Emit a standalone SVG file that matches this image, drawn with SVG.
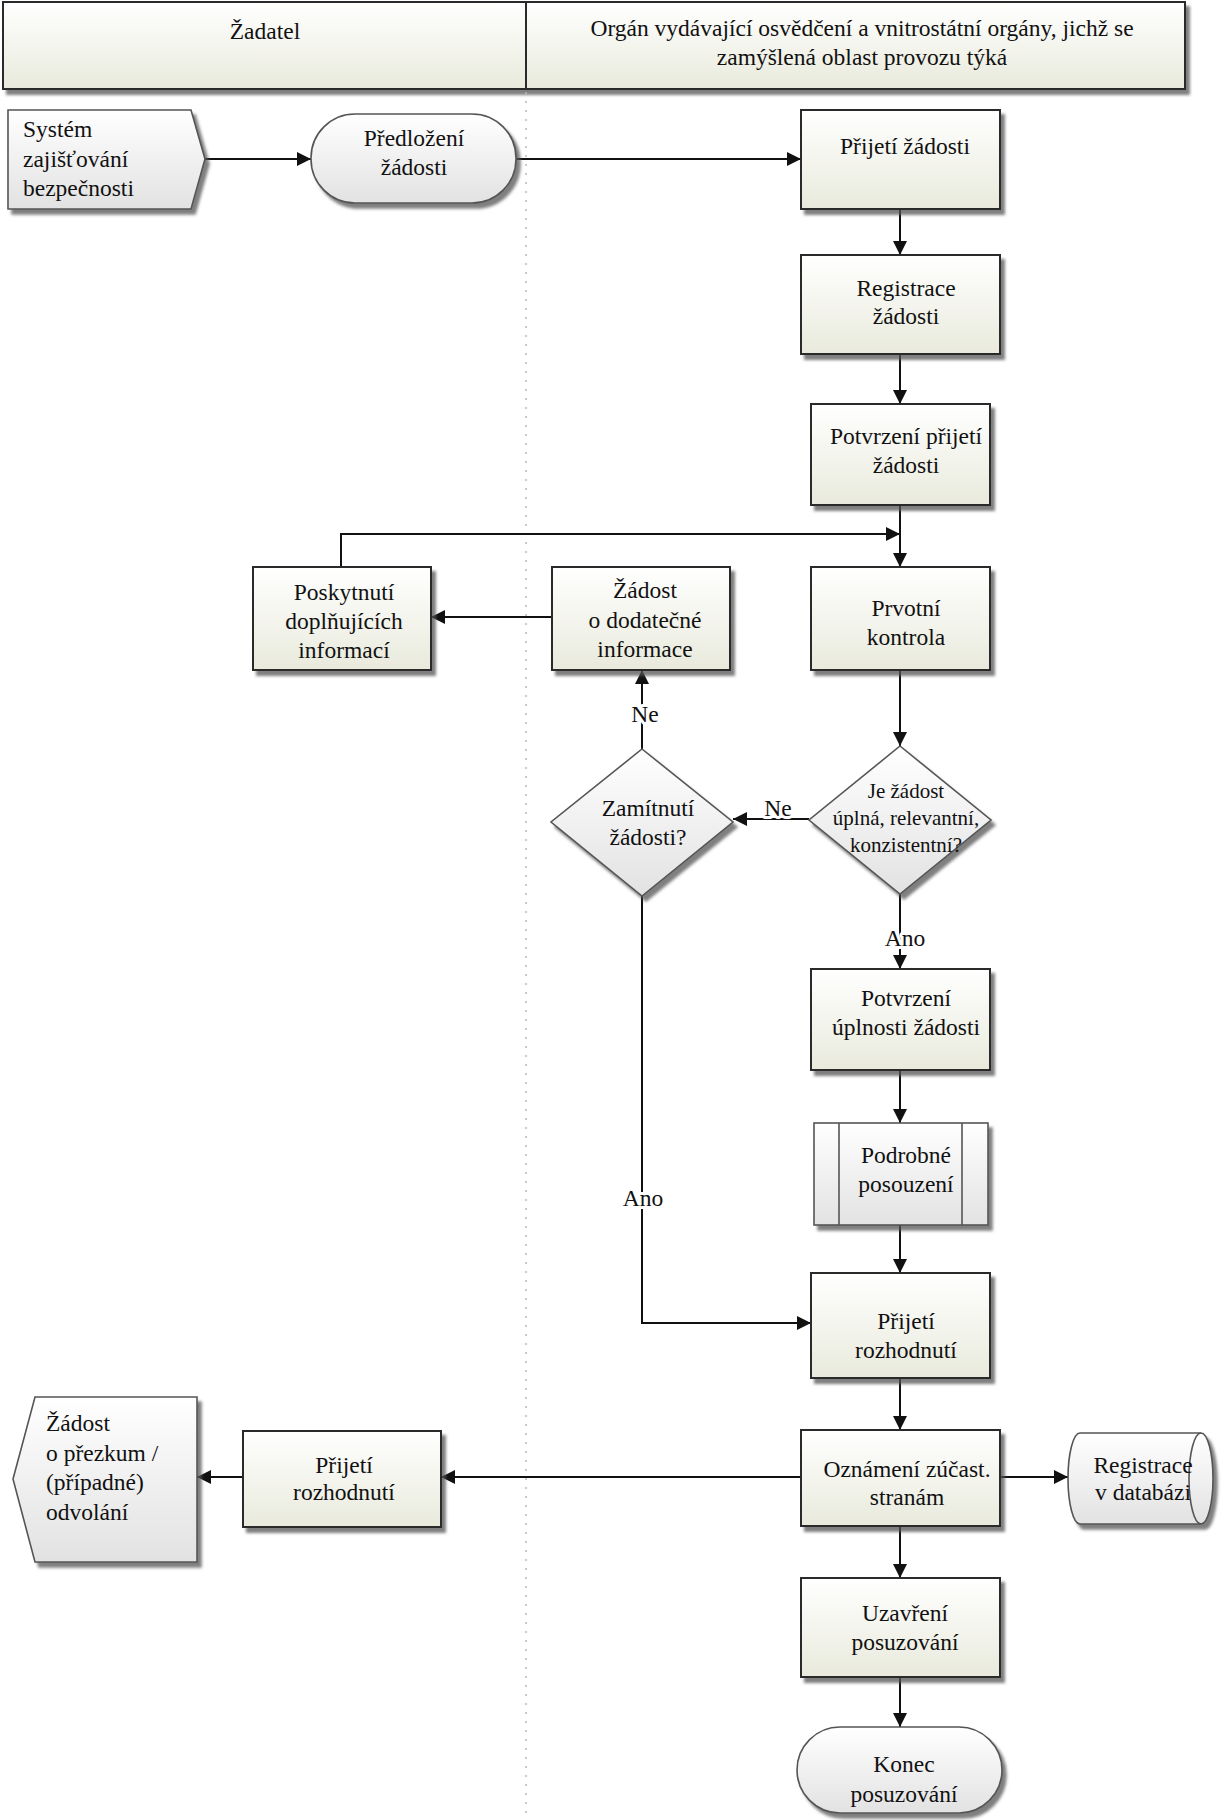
<svg xmlns="http://www.w3.org/2000/svg" width="1222" height="1820" viewBox="0 0 1222 1820">
<defs>
<linearGradient id="gY" x1="0" y1="0" x2="0" y2="1"><stop offset="0" stop-color="#ffffff"/><stop offset="1" stop-color="#e9eadc"/></linearGradient>
<linearGradient id="gG" x1="0" y1="0" x2="0" y2="1"><stop offset="0" stop-color="#ffffff"/><stop offset="1" stop-color="#e2e2e2"/></linearGradient>
<filter id="sh" x="-10%" y="-10%" width="130%" height="130%"><feDropShadow dx="4" dy="5" stdDeviation="1.8" flood-color="#555" flood-opacity="0.75"/></filter>
<marker id="ar" viewBox="0 0 14 14" refX="14" refY="7" markerWidth="14" markerHeight="14" markerUnits="userSpaceOnUse" orient="auto"><path d="M0,0 L14,7 L0,14 Z" fill="#111"/></marker>
<style>
text{font-family:"Liberation Serif","Times New Roman",serif;font-size:23.5px;fill:#111;dominant-baseline:central;}
.c{text-anchor:middle;}
.s{text-anchor:start;}
.sm{font-size:21px;}
.box{fill:url(#gY);stroke:#2a2a2a;stroke-width:2;filter:url(#sh);}
.gry{fill:url(#gG);stroke:#555;stroke-width:1.6;filter:url(#sh);}
.cn{fill:none;stroke:#111;stroke-width:2;}
.lbl{paint-order:stroke;stroke:#fff;stroke-width:6px;stroke-linejoin:round;}
</style>
</defs>
<g id="header">
<rect x="3" y="2" width="1182" height="87" class="box"/>
<line x1="526" y1="2" x2="526" y2="89" stroke="#2a2a2a" stroke-width="2"/>
<text class="c" x="265" y="31">Žadatel</text>
<text class="c" x="862" y="28">Orgán vydávající osvědčení a vnitrostátní orgány, jichž se</text>
<text class="c" x="862" y="57">zamýšlená oblast provozu týká</text>
</g>
<line id="lane-divider" x1="526" y1="92" x2="526" y2="1820" stroke="#bbb" stroke-width="1.5" stroke-dasharray="2 7"/>
<g id="connectors">
<line class="cn" x1="205" y1="159" x2="311" y2="159" marker-end="url(#ar)"/>
<line class="cn" x1="516" y1="159" x2="801" y2="159" marker-end="url(#ar)"/>
<line class="cn" x1="900" y1="209" x2="900" y2="255" marker-end="url(#ar)"/>
<line class="cn" x1="900" y1="354" x2="900" y2="404" marker-end="url(#ar)"/>
<line class="cn" x1="900" y1="505" x2="900" y2="567" marker-end="url(#ar)"/>
<polyline class="cn" points="341,567 341,534 900,534" marker-end="url(#ar)"/>
<line class="cn" x1="552" y1="617" x2="431" y2="617" marker-end="url(#ar)"/>
<line class="cn" x1="900" y1="670" x2="900" y2="746" marker-end="url(#ar)"/>
<line class="cn" x1="809" y1="819" x2="733" y2="819" marker-end="url(#ar)"/>
<line class="cn" x1="642" y1="749" x2="642" y2="670" marker-end="url(#ar)"/>
<line class="cn" x1="900" y1="894" x2="900" y2="969" marker-end="url(#ar)"/>
<line class="cn" x1="900" y1="1070" x2="900" y2="1123" marker-end="url(#ar)"/>
<line class="cn" x1="900" y1="1225" x2="900" y2="1273" marker-end="url(#ar)"/>
<polyline class="cn" points="642,896 642,1323 811,1323" marker-end="url(#ar)"/>
<line class="cn" x1="900" y1="1378" x2="900" y2="1430" marker-end="url(#ar)"/>
<line class="cn" x1="1000" y1="1477" x2="1068" y2="1477" marker-end="url(#ar)"/>
<line class="cn" x1="801" y1="1477" x2="441" y2="1477" marker-end="url(#ar)"/>
<line class="cn" x1="243" y1="1477" x2="197" y2="1477" marker-end="url(#ar)"/>
<line class="cn" x1="900" y1="1526" x2="900" y2="1578" marker-end="url(#ar)"/>
<line class="cn" x1="900" y1="1677" x2="900" y2="1727" marker-end="url(#ar)"/>
<text class="c lbl" x="778" y="808">Ne</text>
<text class="c lbl" x="645" y="714">Ne</text>
<text class="c lbl" x="905" y="938">Ano</text>
<text class="c lbl" x="643" y="1198">Ano</text>
</g>
<g id="n-system">
<polygon class="gry" points="8,110 191,110 205,159 191,209 8,209"/>
<text class="s" x="23" y="129">Systém</text>
<text class="s" x="23" y="159">zajišťování</text>
<text class="s" x="23" y="188">bezpečnosti</text>
</g>
<g id="n-predlozeni">
<rect class="gry" x="311" y="114" width="205" height="89" rx="44" ry="44"/>
<text class="c" x="414" y="138">Předložení</text>
<text class="c" x="414" y="167">žádosti</text>
</g>
<g id="n-prijeti-zadosti">
<rect class="box" x="801" y="110" width="199" height="99"/>
<text class="c" x="905" y="146">Přijetí žádosti</text>
</g>
<g id="n-registrace">
<rect class="box" x="801" y="255" width="199" height="99"/>
<text class="c" x="906" y="288">Registrace</text>
<text class="c" x="906" y="316">žádosti</text>
</g>
<g id="n-potvrzeni-prijeti">
<rect class="box" x="811" y="404" width="179" height="101"/>
<text class="c" x="906" y="436">Potvrzení přijetí</text>
<text class="c" x="906" y="465">žádosti</text>
</g>
<g id="n-poskytnuti">
<rect class="box" x="253" y="567" width="178" height="103"/>
<text class="c" x="344" y="592">Poskytnutí</text>
<text class="c" x="344" y="621">doplňujících</text>
<text class="c" x="344" y="650">informací</text>
</g>
<g id="n-zadost-dodatecne">
<rect class="box" x="552" y="567" width="178" height="103"/>
<text class="c" x="645" y="590">Žádost</text>
<text class="c" x="645" y="620">o dodatečné</text>
<text class="c" x="645" y="649">informace</text>
</g>
<g id="n-prvotni">
<rect class="box" x="811" y="567" width="179" height="103"/>
<text class="c" x="906" y="608">Prvotní</text>
<text class="c" x="906" y="637">kontrola</text>
</g>
<g id="n-je-zadost">
<polygon class="gry" points="900,746 991,820 900,894 809,820"/>
<text class="c sm" x="906" y="791">Je žádost</text>
<text class="c sm" x="906" y="818">úplná, relevantní,</text>
<text class="c sm" x="906" y="845">konzistentní?</text>
</g>
<g id="n-zamitnuti">
<polygon class="gry" points="642,749 733,822 642,896 551,822"/>
<text class="c" x="648" y="808">Zamítnutí</text>
<text class="c" x="648" y="837">žádosti?</text>
</g>
<g id="n-potvrzeni-uplnosti">
<rect class="box" x="811" y="969" width="179" height="101"/>
<text class="c" x="906" y="998">Potvrzení</text>
<text class="c" x="906" y="1027">úplnosti žádosti</text>
</g>
<g id="n-podrobne">
<rect class="gry" x="814" y="1123" width="174" height="102"/>
<line x1="839" y1="1123" x2="839" y2="1225" stroke="#555" stroke-width="1.6"/>
<line x1="962" y1="1123" x2="962" y2="1225" stroke="#555" stroke-width="1.6"/>
<text class="c" x="906" y="1155">Podrobné</text>
<text class="c" x="906" y="1184">posouzení</text>
</g>
<g id="n-prijeti-rozhodnuti">
<rect class="box" x="811" y="1273" width="179" height="105"/>
<text class="c" x="906" y="1321">Přijetí</text>
<text class="c" x="906" y="1350">rozhodnutí</text>
</g>
<g id="n-oznameni">
<rect class="box" x="801" y="1430" width="199" height="96"/>
<text class="c" x="907" y="1469">Oznámení zúčast.</text>
<text class="c" x="907" y="1497">stranám</text>
</g>
<g id="n-registrace-db">
<path class="gry" d="M1080,1433 L1201,1433 A12,45.5 0 0 1 1201,1524 L1080,1524 A12,45.5 0 0 1 1080,1433 Z"/>
<path d="M1201,1433 A12,45.5 0 0 0 1201,1524" fill="none" stroke="#555" stroke-width="1.6"/>
<text class="c" x="1143" y="1465">Registrace</text>
<text class="c" x="1143" y="1492">v databázi</text>
</g>
<g id="n-prijeti-rozhodnuti-zadatel">
<rect class="box" x="243" y="1431" width="198" height="96"/>
<text class="c" x="344" y="1465">Přijetí</text>
<text class="c" x="344" y="1492">rozhodnutí</text>
</g>
<g id="n-prezkum">
<polygon class="gry" points="35,1397 197,1397 197,1562 35,1562 13,1479"/>
<text class="s" x="46" y="1423">Žádost</text>
<text class="s" x="46" y="1453">o přezkum /</text>
<text class="s" x="46" y="1482">(případné)</text>
<text class="s" x="46" y="1512">odvolání</text>
</g>
<g id="n-uzavreni">
<rect class="box" x="801" y="1578" width="199" height="99"/>
<text class="c" x="905" y="1613">Uzavření</text>
<text class="c" x="905" y="1642">posuzování</text>
</g>
<g id="n-konec">
<rect class="gry" x="797" y="1727" width="205" height="86" rx="43" ry="43"/>
<text class="c" x="904" y="1764">Konec</text>
<text class="c" x="904" y="1794">posuzování</text>
</g>
</svg>
